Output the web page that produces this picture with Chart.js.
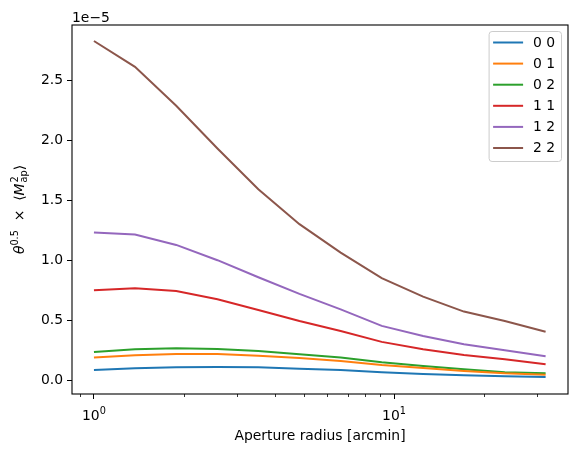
<!DOCTYPE html>
<html>
<head>
<meta charset="utf-8">
<script src="https://cdn.jsdelivr.net/npm/chart.js@4/dist/chart.umd.min.js"></script>
<style>
  html, body { margin: 0; padding: 0; background: #fff; }
  #wrap { width: 577px; height: 452px; }
</style>
</head>
<body>
<div id="wrap"><canvas id="map-chart" width="577" height="452"></canvas></div>
<script>
// aperture radii in arcmin
const radius = [1.0, 1.37, 1.88, 2.58, 3.53, 4.84, 6.64, 9.10, 12.5, 17.1, 23.4, 32.0];

// theta^0.5 * <Map^2>, in units of 1e-5
const pair00 = [0.086, 0.100, 0.108, 0.111, 0.108, 0.097, 0.086, 0.067, 0.053, 0.042, 0.033, 0.028];
const pair01 = [0.190, 0.208, 0.219, 0.219, 0.205, 0.186, 0.161, 0.128, 0.103, 0.077, 0.058, 0.047];
const pair02 = [0.236, 0.258, 0.267, 0.261, 0.244, 0.217, 0.190, 0.150, 0.119, 0.092, 0.067, 0.058];
const pair11 = [0.750, 0.767, 0.744, 0.675, 0.586, 0.494, 0.410, 0.320, 0.258, 0.210, 0.175, 0.133];
const pair12 = [1.230, 1.213, 1.127, 1.000, 0.858, 0.719, 0.590, 0.453, 0.369, 0.300, 0.250, 0.200];
const pair22 = [2.825, 2.610, 2.286, 1.930, 1.590, 1.300, 1.063, 0.850, 0.697, 0.572, 0.494, 0.405];

const pairLabels = ["0 0", "0 1", "0 2", "1 1", "1 2", "2 2"];
const pairSeries = [pair00, pair01, pair02, pair11, pair12, pair22];
const colors = ["#1f77b4", "#ff7f0e", "#2ca02c", "#d62728", "#9467bd", "#8c564b"];

const xTicks = [0.9, 1, 2, 3, 4, 5, 6, 7, 8, 9, 10, 20, 30];
const xMajor = [1, 10];
const yTicks = [0.0, 0.5, 1.0, 1.5, 2.0, 2.5];

const FONT = "DejaVu Sans";
const FS = 13.9;

// extra drawing matplotlib does: spines, minor ticks, titles, legend box
const extras = {
  id: "extras",
  afterDatasetsDraw(chart) {
    const ctx = chart.ctx;
    const a = chart.chartArea;
    const xs = chart.scales.x;
    const small = FS * 0.7;
    const fNorm = FS + "px '" + FONT + "'";
    const fItal = "oblique " + FS + "px '" + FONT + "'";
    const fSmall = small + "px '" + FONT + "'";
    ctx.save();

    // box
    ctx.strokeStyle = "#000";
    ctx.lineWidth = 1.1;
    ctx.strokeRect(a.left, a.top, a.right - a.left, a.bottom - a.top);

    // minor ticks
    ctx.lineWidth = 0.8;
    xTicks.forEach(v => {
      if (xMajor.includes(v)) return;
      const px = Math.round(xs.getPixelForValue(v)) + 0.5;
      ctx.beginPath();
      ctx.moveTo(px, a.bottom);
      ctx.lineTo(px, a.bottom + 3);
      ctx.stroke();
    });

    ctx.fillStyle = "#000";

    // major x labels as 10^n
    ctx.textBaseline = "alphabetic";
    ctx.textAlign = "left";
    xMajor.forEach(v => {
      const px = xs.getPixelForValue(v);
      const ex = String(Math.round(Math.log10(v)));
      ctx.font = fNorm;
      const w1 = ctx.measureText("10").width;
      ctx.font = fSmall;
      const w2 = ctx.measureText(ex).width;
      const x0 = px - (w1 + w2) / 2;
      ctx.font = fNorm;
      ctx.fillText("10", x0, a.bottom + 25.5);
      ctx.font = fSmall;
      ctx.fillText(ex, x0 + w1, a.bottom + 19.5);
    });

    // offset text
    ctx.font = fNorm;
    ctx.textAlign = "left";
    ctx.textBaseline = "alphabetic";
    ctx.fillText("1e\u22125", a.left, a.top - 3.5);

    // x title
    ctx.textAlign = "center";
    ctx.textBaseline = "middle";
    ctx.fillText("Aperture radius [arcmin]", (a.left + a.right) / 2, 436);

    // y title, drawn piece by piece for the sup/subscripts
    const pieces = [
      { t: "\u03b8", f: fItal, dy: 0 },
      { t: "0.5", f: fSmall, dy: -5.5 },
      { t: "  \u00d7  ", f: fNorm, dy: 0 },
      { t: "\u27e8", f: fNorm, dy: 0 },
      { t: "M", f: fItal, dy: 0 },
      { stack: true, sup: "2", sub: "ap" },
      { t: "\u27e9", f: fNorm, dy: 0 }
    ];
    let total = 0;
    pieces.forEach(p => {
      if (p.stack) {
        ctx.font = fSmall;
        p.w = Math.max(ctx.measureText(p.sup).width, ctx.measureText(p.sub).width) + 1;
      } else {
        ctx.font = p.f;
        p.w = ctx.measureText(p.t).width;
      }
      total += p.w;
    });
    ctx.translate(23.5, (a.top + a.bottom) / 2);
    ctx.rotate(-Math.PI / 2);
    ctx.textAlign = "left";
    ctx.textBaseline = "alphabetic";
    let cx = -total / 2;
    pieces.forEach(p => {
      if (p.stack) {
        ctx.font = fSmall;
        ctx.fillText(p.sup, cx + 1, -6);
        ctx.fillText(p.sub, cx + 1, 3);
      } else {
        ctx.font = p.f;
        ctx.fillText(p.t, cx, p.dy);
      }
      cx += p.w;
    });
    ctx.restore();

    // legend
    ctx.save();
    const bw = 72.4, bh = 130;
    const bx = a.right - 6.5 - bw, by = a.top + 6.5;
    ctx.beginPath();
    ctx.roundRect(bx, by, bw, bh, 3);
    ctx.fillStyle = "rgba(255,255,255,0.8)";
    ctx.fill();
    ctx.strokeStyle = "#cccccc";
    ctx.lineWidth = 1;
    ctx.stroke();
    ctx.font = fNorm;
    ctx.textAlign = "left";
    ctx.textBaseline = "middle";
    chart.data.datasets.forEach((ds, i) => {
      const ry = by + 11 + i * 21.1;
      ctx.strokeStyle = ds.borderColor;
      ctx.lineWidth = 2;
      ctx.beginPath();
      ctx.moveTo(bx + 4, ry);
      ctx.lineTo(bx + 34, ry);
      ctx.stroke();
      ctx.fillStyle = "#000";
      ctx.fillText(ds.label, bx + 44, ry + 0.5);
    });
    ctx.restore();
  }
};

const datasets = pairLabels.map((lab, i) => ({
  label: lab,
  data: radius.map((r, j) => ({ x: r, y: pairSeries[i][j] })),
  borderColor: colors[i],
  backgroundColor: colors[i],
  borderWidth: 2,
  pointRadius: 0,
  tension: 0,
  fill: false
}));

new Chart(document.getElementById("map-chart"), {
  type: "line",
  data: { datasets: datasets },
  options: {
    responsive: false,
    animation: false,
    devicePixelRatio: 1,
    layout: { padding: { left: 0, right: 9, top: 25, bottom: 0 } },
    plugins: {
      legend: { display: false },
      tooltip: { enabled: false }
    },
    scales: {
      x: {
        type: "logarithmic",
        min: 0.845,
        max: 38.0,
        afterBuildTicks: s => { s.ticks = xTicks.map(v => ({ value: v, major: xMajor.includes(v) })); },
        afterFit: s => { s.height = 58; },
        border: { display: false },
        grid: {
          drawOnChartArea: false,
          tickLength: 5,
          tickWidth: 1,
          tickColor: c => (c.tick && xMajor.includes(c.tick.value)) ? "#000" : "rgba(0,0,0,0)"
        },
        ticks: {
          autoSkip: false,
          maxRotation: 0,
          padding: 6,
          color: "#000",
          font: { family: FONT, size: FS },
          callback: () => ""
        }
      },
      y: {
        type: "linear",
        min: -0.114,
        max: 2.958,
        afterBuildTicks: s => { s.ticks = yTicks.map(v => ({ value: v })); },
        afterFit: s => { s.width = 72; },
        border: { display: false },
        grid: {
          drawOnChartArea: false,
          tickLength: 5,
          tickWidth: 1,
          tickColor: "#000"
        },
        ticks: {
          padding: 4,
          color: "#000",
          font: { family: FONT, size: FS },
          callback: v => v.toFixed(1)
        }
      }
    }
  },
  plugins: [extras]
});
</script>
</body>
</html>
